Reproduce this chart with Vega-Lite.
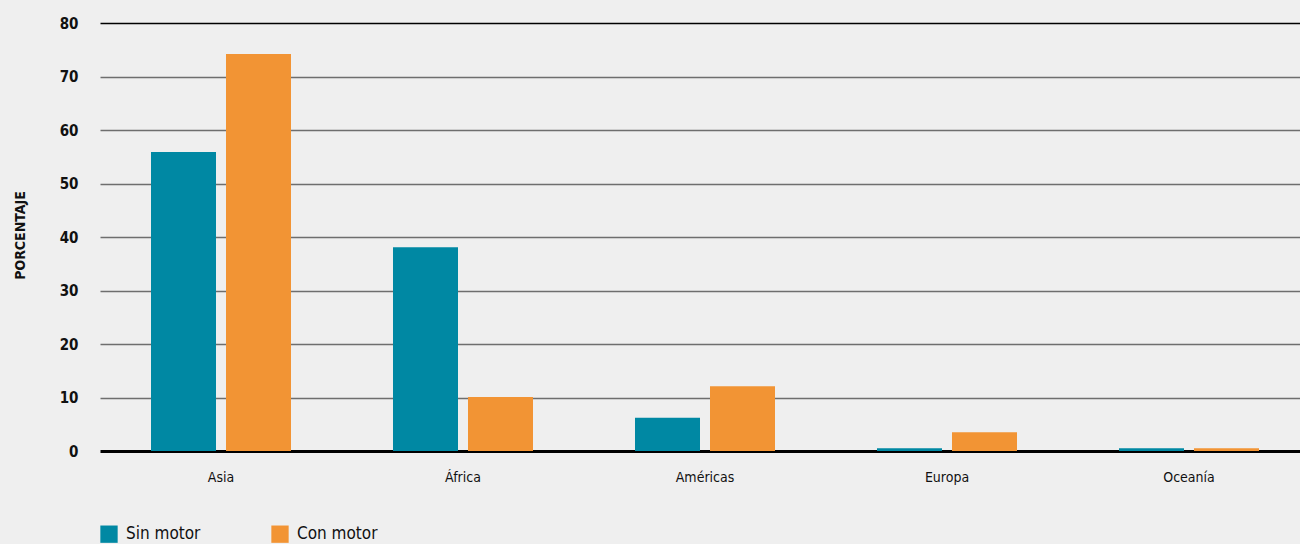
{
  "$schema": "https://vega.github.io/schema/vega-lite/v6.json",
  "width": 1210,
  "height": 428,
  "autosize": "none",
  "padding": {"left": 100, "top": 23, "right": 0, "bottom": 93},
  "background": "#efefef",
  "config": {
    "view": {"stroke": null},
    "font": "DejaVu Sans Condensed",
    "axis": {"labelFont": "DejaVu Sans Condensed", "titleFont": "DejaVu Sans Condensed"},
    "legend": {"labelFont": "DejaVu Sans Condensed"}
  },
  "data": {
    "values": [
      {"region": "Asia", "tipo": "Sin motor", "valor": 55.9},
      {"region": "Asia", "tipo": "Con motor", "valor": 74.2},
      {"region": "África", "tipo": "Sin motor", "valor": 38.1},
      {"region": "África", "tipo": "Con motor", "valor": 10.1},
      {"region": "Américas", "tipo": "Sin motor", "valor": 6.2},
      {"region": "Américas", "tipo": "Con motor", "valor": 12.1},
      {"region": "Europa", "tipo": "Sin motor", "valor": 0.5},
      {"region": "Europa", "tipo": "Con motor", "valor": 3.5},
      {"region": "Oceanía", "tipo": "Sin motor", "valor": 0.5},
      {"region": "Oceanía", "tipo": "Con motor", "valor": 0.5}
    ]
  },
  "mark": {"type": "bar"},
  "encoding": {
    "x": {
      "field": "region",
      "type": "nominal",
      "sort": ["Asia", "África", "Américas", "Europa", "Oceanía"],
      "scale": {"paddingInner": 0, "paddingOuter": 0},
      "axis": {
        "title": null,
        "labelAngle": 0,
        "domain": false,
        "ticks": false,
        "labelPadding": 19,
        "labelFontSize": 14,
        "labelColor": "#111111"
      }
    },
    "xOffset": {
      "field": "tipo",
      "type": "nominal",
      "sort": ["Sin motor", "Con motor"],
      "scale": {"paddingInner": 0.1333, "paddingOuter": 0.68}
    },
    "y": {
      "field": "valor",
      "type": "quantitative",
      "scale": {"domain": [0, 80]},
      "axis": {
        "title": "PORCENTAJE",
        "titleFontSize": 14,
        "titleFontWeight": "bold",
        "titleColor": "#111111",
        "titleX": -80,
        "titleY": 212,
        "titleAngle": -90,
        "titleAlign": "center",
        "titleBaseline": "middle",
        "values": [0, 10, 20, 30, 40, 50, 60, 70, 80],
        "domain": false,
        "ticks": false,
        "labelPadding": 22,
        "labelFontSize": 15,
        "labelFontWeight": "bold",
        "labelColor": "#111111",
        "grid": true,
        "gridColor": {"condition": {"test": "datum.value === 80 || datum.value === 0", "value": "#000000"}, "value": "#6e6e6e"},
        "gridWidth": {"condition": {"test": "datum.value === 0", "value": 3}, "value": 1.5},
        "gridOpacity": 1
      }
    },
    "color": {
      "field": "tipo",
      "type": "nominal",
      "sort": ["Sin motor", "Con motor"],
      "scale": {"domain": ["Sin motor", "Con motor"], "range": ["#0088a3", "#f29434"]},
      "legend": {
        "title": null,
        "orient": "none",
        "legendX": 0,
        "legendY": 502,
        "direction": "horizontal",
        "symbolType": "square",
        "symbolSize": 300,
        "symbolStrokeWidth": 0,
        "labelFontSize": 17,
        "labelColor": "#111111",
        "columnPadding": 70,
        "labelOffset": 8
      }
    }
  }
}
